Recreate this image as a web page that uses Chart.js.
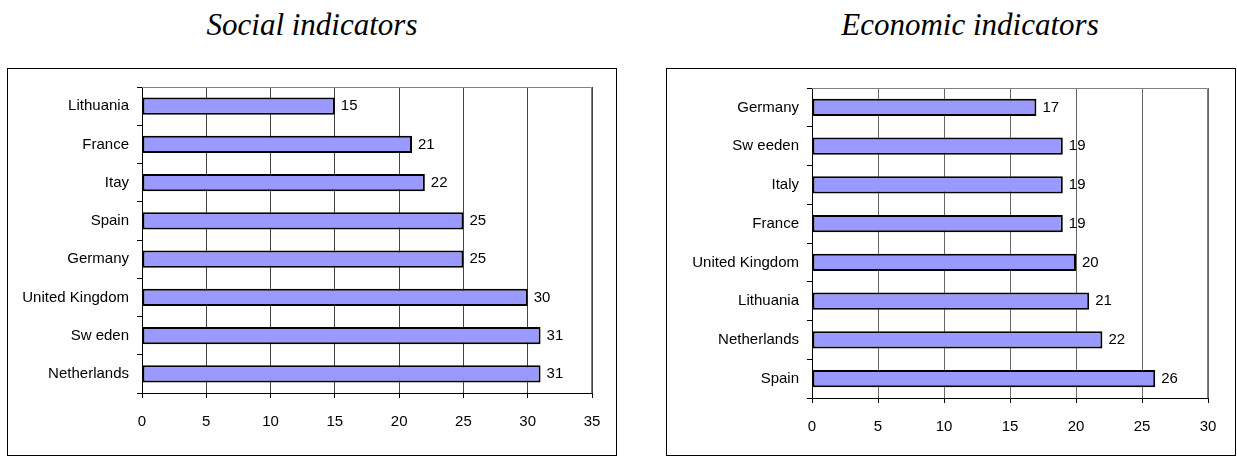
<!DOCTYPE html>
<html>
<head>
<meta charset="utf-8">
<script src="https://cdn.jsdelivr.net/npm/chart.js@4.4.1/dist/chart.umd.min.js"></script>
<style>
  body { margin:0; background:#fff; width:1237px; height:457px; position:relative; overflow:hidden; }
  .title { position:absolute; top:7px; font-family:"Liberation Serif","Times New Roman",serif; font-style:italic; font-size:31px; color:#000; text-align:center; }
  .box { position:absolute; border:1px solid #000; box-sizing:border-box; background:#fff; }
</style>
</head>
<body>
<div class="title" style="left:7px; width:610px;">Social indicators</div>
<div class="title" style="left:700px; width:540px;">Economic indicators</div>
<div class="box" style="left:7px; top:68px; width:610px; height:388px;"><canvas id="myChart_1"></canvas></div>
<div class="box" style="left:666px; top:68px; width:570px; height:388px;"><canvas id="myChart_2"></canvas></div>
<script>
var social_countries = ['Lithuania', 'France', 'Itay', 'Spain', 'Germany', 'United Kingdom', 'Sw eden', 'Netherlands'];
var social_values = [15, 21, 22, 25, 25, 30, 31, 31];
var social_ticks = [0, 5, 10, 15, 20, 25, 30, 35];

var economic_countries = ['Germany', 'Sw eeden', 'Italy', 'France', 'United Kingdom', 'Lithuania', 'Netherlands', 'Spain'];
var economic_values = [17, 19, 19, 19, 20, 21, 22, 26];
var economic_ticks = [0, 5, 10, 15, 20, 25, 30];

// value labels next to bars + grey frame round the plot area
var barLabels = {
    id: 'barLabels',
    beforeDatasetsDraw: function(chart) {
        var a = chart.chartArea, ctx = chart.ctx;
        ctx.save();
        ctx.strokeStyle = '#808080';
        ctx.lineWidth = 1;
        ctx.beginPath();
        ctx.moveTo(a.left, a.top + 0.5);
        ctx.lineTo(a.right - 0.5, a.top + 0.5);
        ctx.lineTo(a.right - 0.5, a.bottom);
        ctx.stroke();
        ctx.restore();
    },
    afterDatasetsDraw: function(chart) {
        var ctx = chart.ctx;
        var meta = chart.getDatasetMeta(0);
        ctx.save();
        ctx.font = '15px "Liberation Sans", Arial, sans-serif';
        ctx.fillStyle = '#000';
        ctx.textBaseline = 'middle';
        ctx.textAlign = 'left';
        meta.data.forEach(function(bar, i) {
            ctx.fillText(chart.data.datasets[0].data[i], bar.x + 6, bar.y);
        });
        ctx.restore();
    }
};

function makeChart(id, labels, values, ticks, pad, gridColor) {
    var ctx = document.getElementById(id).getContext('2d');
    return new Chart(ctx, {
        type: 'bar',
        data: {
            labels: labels,
            datasets: [{
                data: values,
                backgroundColor: '#9999FF',
                borderColor: '#000',
                borderWidth: 2,
                borderSkipped: false,
                categoryPercentage: 1,
                barPercentage: 0.45
            }]
        },
        options: {
            indexAxis: 'y',
            responsive: true,
            maintainAspectRatio: false,
            animation: false,
            layout: { padding: { left: 0, top: pad.top, right: pad.right, bottom: 0 } },
            plugins: { legend: { display: false }, tooltip: { enabled: false } },
            scales: {
                x: {
                    min: ticks[0],
                    max: ticks[ticks.length - 1],
                    afterBuildTicks: function(scale) {
                        scale.ticks = ticks.map(function(v) { return { value: v }; });
                    },
                    afterFit: function(scale) { scale.height = pad.bottom; },
                    grid: { color: gridColor, tickColor: '#000', tickLength: 5, drawTicks: true },
                    border: { color: '#000', width: 1 },
                    ticks: {
                        padding: 15,
                        color: '#000',
                        font: { family: '"Liberation Sans", Arial, sans-serif', size: 15 }
                    }
                },
                y: {
                    afterFit: function(scale) { scale.width = pad.left; },
                    grid: { drawOnChartArea: false, tickColor: '#000', tickLength: 5, offset: true },
                    border: { color: '#000', width: 1 },
                    ticks: {
                        padding: 8,
                        color: '#000',
                        font: { family: '"Liberation Sans", Arial, sans-serif', size: 15 }
                    }
                }
            }
        },
        plugins: [barLabels]
    });
}

makeChart('myChart_1', social_countries, social_values, social_ticks,
    { left: 134, top: 18, right: 24, bottom: 62 }, '#444');
makeChart('myChart_2', economic_countries, economic_values, economic_ticks,
    { left: 145, top: 19, right: 27, bottom: 57 }, '#666');
</script>
</body>
</html>
